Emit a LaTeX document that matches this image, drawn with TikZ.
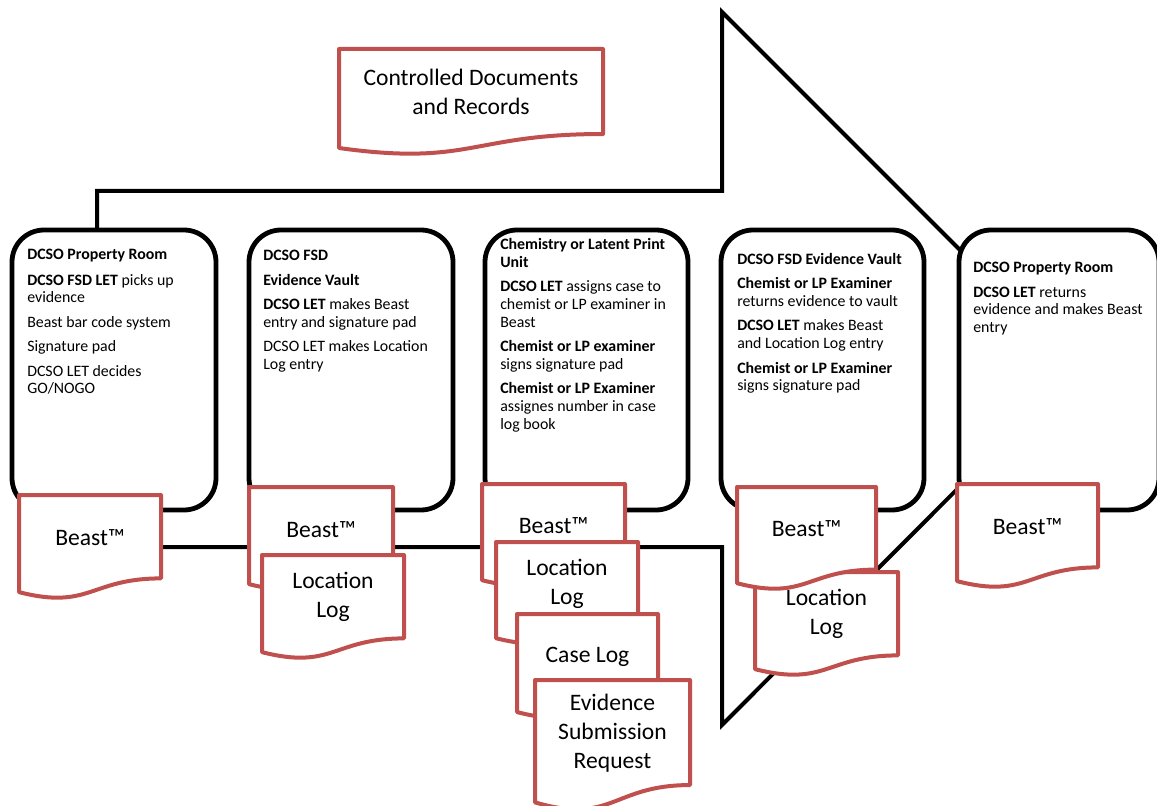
\documentclass[tikz,border=0pt]{standalone}
\usepackage{fontspec}
\setmainfont{Carlito}
\definecolor{docred}{RGB}{192,80,77}
\tikzset{
  stagebox/.style={draw=black, fill=white, line width=3.6pt, rounded corners=24pt},
  flowarrow/.style={draw=black, fill=white, line width=3pt, line join=miter},
  docline/.style={draw=docred, fill=white, line width=3pt, line join=round},
  doctext/.style={font=\fontsize{17.7}{21.6}\selectfont, align=center, inner sep=0pt},
  boxtext/.style={font=\fontsize{11.9}{13.3}\selectfont, align=left, anchor=north west, inner sep=0pt}
}
\newcommand{\pgap}{5pt}
% document sheet: name, left, top, width, height, text
\newcommand{\docsheet}[6]{%
  \filldraw[docline] (#2,#3) -- ({#2+#4},#3) -- ({#2+#4},{#3+0.802*#5})
    .. controls ({#2+0.5*#4},{#3+0.802*#5}) and ({#2+0.5*#4},{#3+1.1075*#5}) .. (#2,{#3+0.934*#5}) -- cycle;
  \node[doctext] (#1) at ({#2+0.5*#4},{#3+0.405*#5}) {#6};
}
\begin{document}
\begin{tikzpicture}[x=0.75pt, y=-0.75pt]
  \useasboundingbox (0,0) rectangle (1157,806);
  % big flow arrow behind the stages
  \filldraw[flowarrow] (97,191) -- (722,191) -- (722,12) -- (1078,368) -- (722,725) -- (722,547) -- (97,547) -- cycle;

  % stages
  \foreach \xa/\xb in {12/216, 249/453, 485/688, 721/924, 959/1159}
    \filldraw[stagebox] (\xa,230) rectangle (\xb,510);

  \node[boxtext] (roomA) at (27,249) {\textbf{DCSO Property Room}\\[5.8pt]\textbf{DCSO FSD LET} picks up\\evidence\\[\pgap]Beast bar code system\\[\pgap]Signature pad\\[\pgap]DCSO LET decides\\GO/NOGO};
  \node[boxtext] (vaultB) at (263,250) {\textbf{DCSO FSD}\\[\pgap]\textbf{Evidence Vault}\\[\pgap]\textbf{DCSO LET} makes Beast\\entry and signature pad\\[\pgap]DCSO LET makes Location\\Log entry};
  \node[boxtext] (unitC) at (500,238) {\textbf{Chemistry or Latent Print}\\\textbf{Unit}\\[\pgap]\textbf{DCSO LET} assigns case to\\chemist or LP examiner in\\Beast\\[\pgap]\textbf{Chemist or LP examiner}\\signs signature pad\\[\pgap]\textbf{Chemist or LP Examiner}\\assignes number in case\\log book};
  \node[boxtext] (vaultD) at (737,253) {\textbf{DCSO FSD Evidence Vault}\\[\pgap]\textbf{Chemist or LP Examiner}\\returns evidence to vault\\[\pgap]\textbf{DCSO LET} makes Beast\\and Location Log entry\\[\pgap]\textbf{Chemist or LP Examiner}\\signs signature pad};
  \node[boxtext] (roomE) at (973,262) {\textbf{DCSO Property Room}\\[\pgap]\textbf{DCSO LET} returns\\evidence and makes Beast\\entry};

  % records
  \docsheet{beastA}{19}{495}{142}{104}{Beast™}
  \docsheet{beastB}{249}{487}{144}{104}{Beast™}
  \docsheet{locB}{262}{555}{142}{104}{Location\\Log}
  \docsheet{beastC}{482}{484}{143}{103}{Beast™}
  \docsheet{locC}{496}{542}{142}{103}{Location\\Log}
  \docsheet{caseC}{517}{614}{141}{105}{Case Log}
  \docsheet{esrC}{535}{680}{155}{131}{Evidence\\Submission\\Request}
  \docsheet{locD}{755}{572}{143}{104}{Location\\Log}
  \docsheet{beastD}{737}{487}{139}{103}{Beast™}
  \docsheet{beastE}{957}{484}{141}{104}{Beast™}
  \docsheet{records}{339}{49}{264}{106}{Controlled Documents\\and Records}
\end{tikzpicture}
\end{document}
